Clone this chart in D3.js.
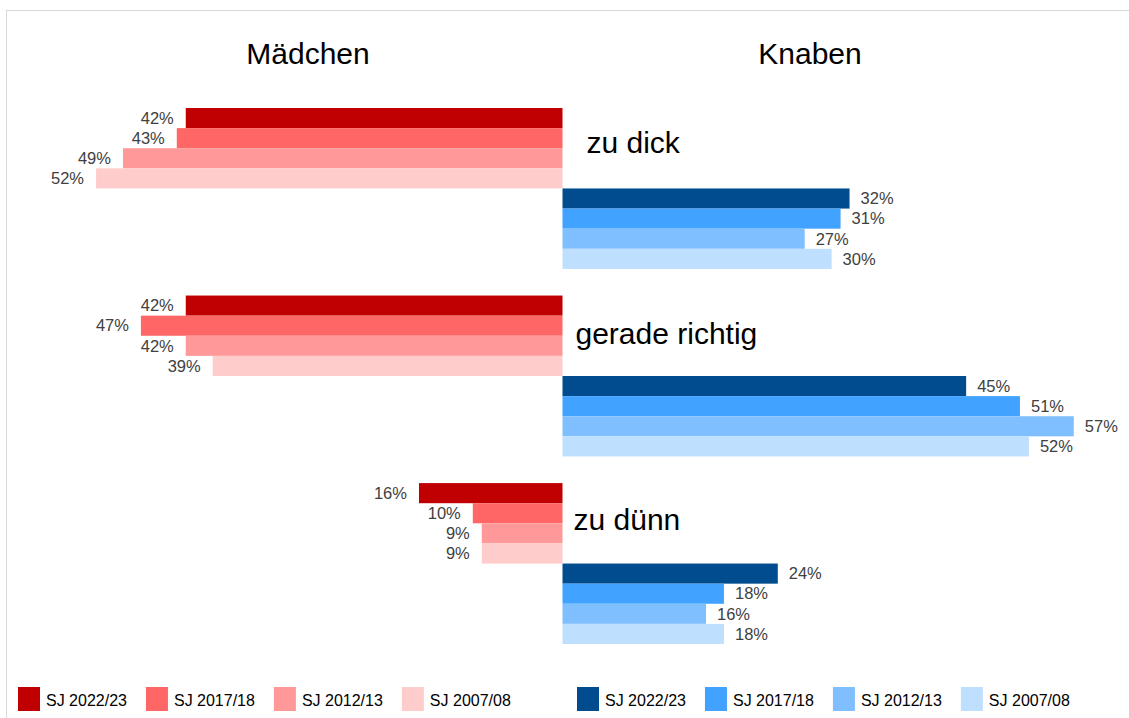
<!DOCTYPE html>
<html>
<head>
<meta charset="utf-8">
<script src="https://cdn.jsdelivr.net/npm/d3@7"></script>
<style>
  html, body { margin: 0; padding: 0; background: #fff; }
  svg { display: block; font-family: "Liberation Sans", Arial, sans-serif; }
</style>
</head>
<body>
<svg id="chart" width="1129" height="718"></svg>
<script>
// ---- data ----
const categories = ["zu dick", "gerade richtig", "zu dünn"];
const years = ["SJ 2022/23", "SJ 2017/18", "SJ 2012/13", "SJ 2007/08"];
const girls = [
  [42, 43, 49, 52],
  [42, 47, 42, 39],
  [16, 10, 9, 9]
];
const boys = [
  [32, 31, 27, 30],
  [45, 51, 57, 52],
  [24, 18, 16, 18]
];
const girlColors = ["#C00000", "#FF6666", "#FF9999", "#FFCCCC"];
const boyColors = ["#004C8F", "#41A3FF", "#80BFFF", "#BFDFFF"];
const sideTitles = ["Mädchen", "Knaben"];

// ---- layout ----
const W = 1129, H = 718;
const cx = 562.5;
const svg = d3.select("#chart");

svg.append("rect").attr("x", 6.5).attr("y", 10.5).attr("width", 1130).attr("height", 720)
  .attr("fill", "none").attr("stroke", "#d9d9d9").attr("stroke-width", 1);

const xBoys = d3.scaleLinear().domain([0, 60]).range([cx, cx + 538.2]);
const xGirls = d3.scaleLinear().domain([0, 60]).range([cx, cx - 538.2]);

const yCat = d3.scaleBand().domain(categories).range([108, 644]).paddingInner(0.142).paddingOuter(0);
const slots = d3.range(8);
const ySub = d3.scaleBand().domain(slots).range([0, yCat.bandwidth()]);

// titles
svg.append("text").attr("x", 308).attr("y", 64).attr("text-anchor", "middle")
  .attr("font-size", 30).attr("fill", "#000").text(sideTitles[0]);
svg.append("text").attr("x", 810).attr("y", 64).attr("text-anchor", "middle")
  .attr("font-size", 30).attr("fill", "#000").text(sideTitles[1]);

const catLabelDx = [24, 13, 11];
const catLabelDy = [45, 48, 47];

categories.forEach((cat, ci) => {
  const g = svg.append("g").attr("transform", `translate(0,${yCat(cat)})`);
  // girls
  g.selectAll("rect.girl").data(girls[ci]).join("rect")
    .attr("class", "girl")
    .attr("x", d => xGirls(d))
    .attr("y", (d, i) => ySub(i))
    .attr("width", d => cx - xGirls(d))
    .attr("height", ySub.bandwidth())
    .attr("fill", (d, i) => girlColors[i]);
  g.selectAll("text.girl").data(girls[ci]).join("text")
    .attr("class", "girl")
    .attr("x", d => xGirls(d) - 12)
    .attr("y", (d, i) => ySub(i) + ySub.bandwidth() / 2)
    .attr("dy", "0.35em")
    .attr("text-anchor", "end")
    .attr("font-size", 16.5).attr("fill", "#404040")
    .text(d => d + "%");
  // boys
  g.selectAll("rect.boy").data(boys[ci]).join("rect")
    .attr("class", "boy")
    .attr("x", cx)
    .attr("y", (d, i) => ySub(i + 4))
    .attr("width", d => xBoys(d) - cx)
    .attr("height", ySub.bandwidth())
    .attr("fill", (d, i) => boyColors[i]);
  g.selectAll("text.boy").data(boys[ci]).join("text")
    .attr("class", "boy")
    .attr("x", d => xBoys(d) + 11)
    .attr("y", (d, i) => ySub(i + 4) + ySub.bandwidth() / 2)
    .attr("dy", "0.35em")
    .attr("text-anchor", "start")
    .attr("font-size", 16.5).attr("fill", "#404040")
    .text(d => d + "%");
  // category label
  g.append("text").attr("x", cx + catLabelDx[ci]).attr("y", catLabelDy[ci])
    .attr("font-size", 30).attr("fill", "#000").text(cat);
});

// legend
function legend(x0, colors) {
  let x = x0;
  years.forEach((yr, i) => {
    svg.append("rect").attr("x", x).attr("y", 687).attr("width", 22).attr("height", 24)
      .attr("fill", colors[i]);
    const t = svg.append("text").attr("x", x + 28).attr("y", 706)
      .attr("font-size", 16).attr("fill", "#000").text(yr);
    const w = t.node().getComputedTextLength();
    x = x + 28 + w + 19;
  });
}
legend(18, girlColors);
legend(577, boyColors);
</script>
</body>
</html>
